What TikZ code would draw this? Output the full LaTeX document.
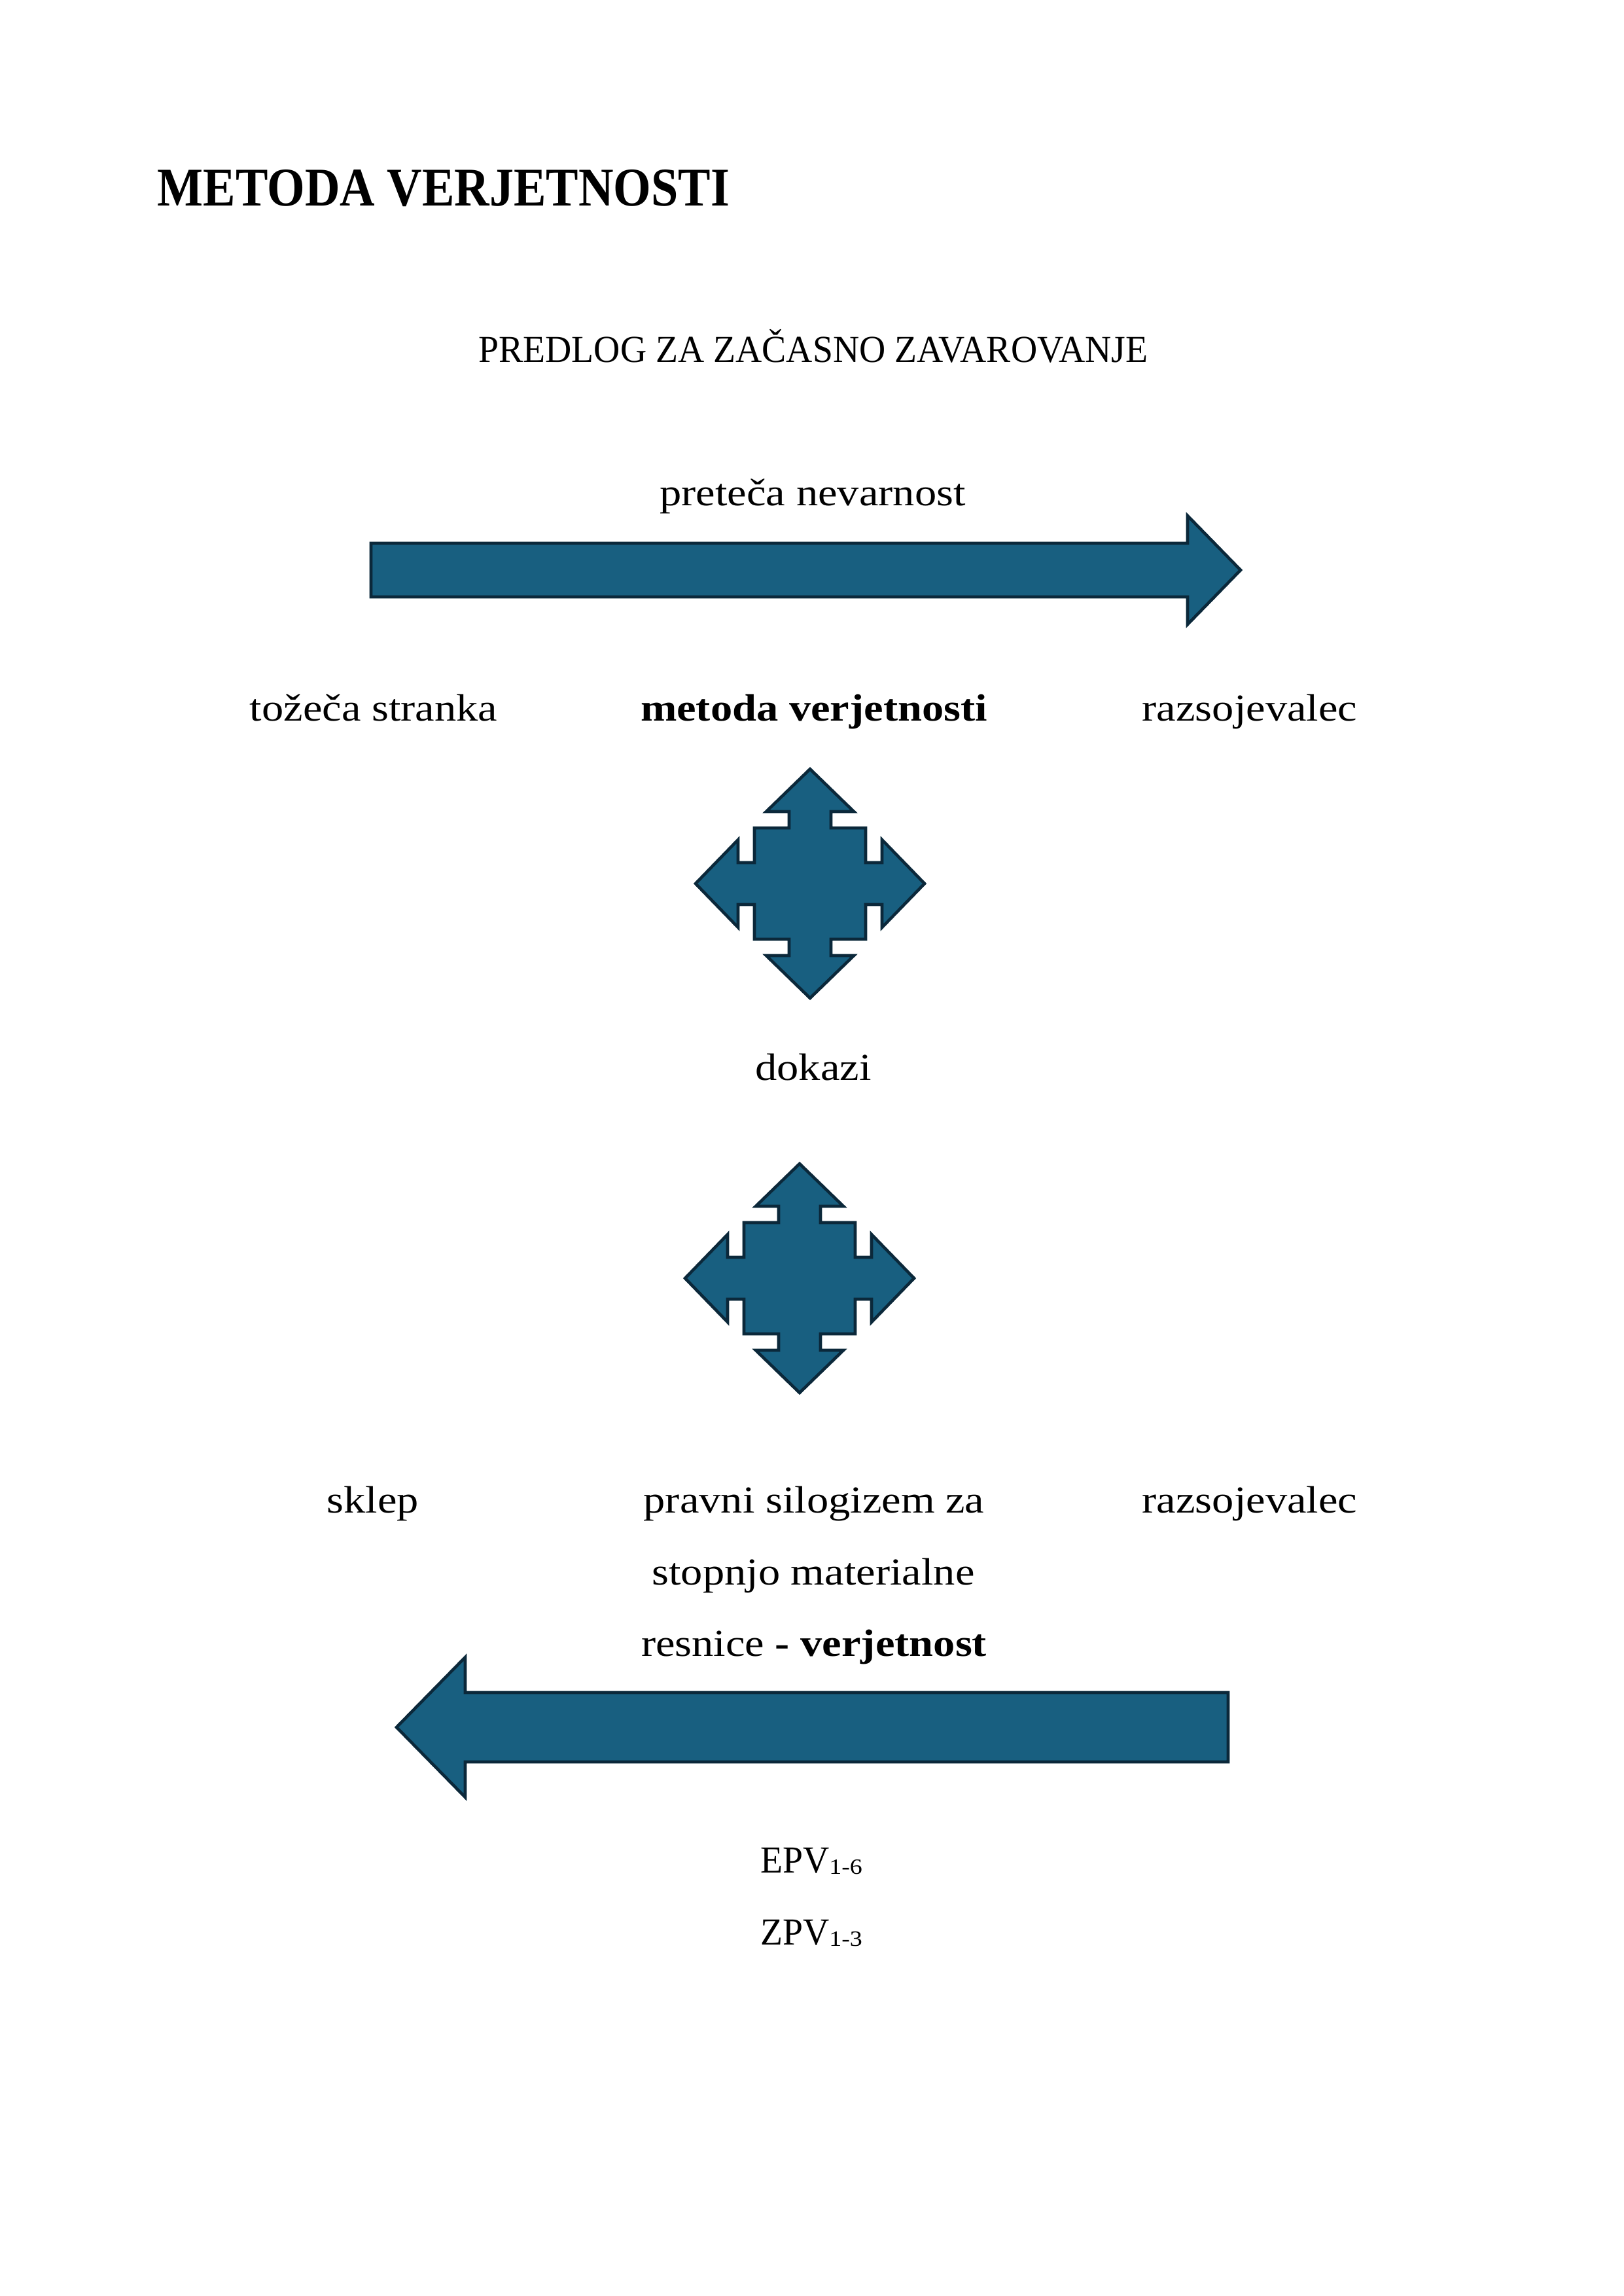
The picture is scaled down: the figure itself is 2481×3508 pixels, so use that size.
\documentclass[tikz,border=0pt]{standalone}
\usepackage{fontspec}
\setmainfont{Liberation Serif}[FakeStretch=1.14]
\newfontfamily\capsfont{Liberation Serif}[FakeStretch=0.955]
\newfontfamily\titlefont{Liberation Serif}[FakeStretch=0.89]
\definecolor{arrowfill}{RGB}{24,95,128}
\definecolor{arrowline}{RGB}{11,40,58}
\newcommand\myquadarrow[3]{%
  \begin{scope}[shift={(#1,#2)}]
    \draw[shapefill] (0,-175) -- (67,-110) -- (32,-110) -- (32,-85) -- (85,-85) -- (85,-32) -- (110,-32) -- (110,-67) -- (175,0) -- (110,67) -- (110,32) -- (85,32) -- (85,85) -- (32,85) -- (32,110) -- (67,110) -- (0,175) -- (-67,110) -- (-32,110) -- (-32,85) -- (-85,85) -- (-85,32) -- (-110,32) -- (-110,67) -- (-175,0) -- (-110,-67) -- (-110,-32) -- (-85,-32) -- (-85,-85) -- (-32,-85) -- (-32,-110) -- (-67,-110) -- cycle;
    \coordinate (#3) at (0,0);
  \end{scope}}
\begin{document}
\begin{tikzpicture}[x=0.24pt,y=-0.24pt,
  txt/.style={inner sep=0pt, anchor=base, font=\fontsize{14}{17}\selectfont},
  shapefill/.style={fill=arrowfill, draw=arrowline, line width=1.1pt, line join=miter}]
\useasboundingbox (0,0) rectangle (2481,3508);
\fill[white] (0,0) rectangle (2481,3508);

% title
\node[txt, anchor=base west, font=\titlefont\bfseries\fontsize{20}{24}\selectfont] (title) at (240,315) {METODA VERJETNOSTI};

\node[txt, font=\capsfont\fontsize{14}{17}\selectfont] (predlog) at (1243,554) {PREDLOG ZA ZAČASNO ZAVAROVANJE};
\node[txt] (nevarnost) at (1242,773) {preteča nevarnost};

% right arrow
\draw[shapefill] (567,830) -- (1815,830) -- (1815,788) -- (1896,871) -- (1815,954) -- (1815,912) -- (567,912) -- cycle;

\node[txt] (tozeca) at (571,1101) {tožeča stranka};
\node[txt, font=\bfseries\fontsize{14}{17}\selectfont] (metoda) at (1244,1101) {metoda verjetnosti};
\node[txt] (razs1) at (1910,1101) {razsojevalec};

\myquadarrow{1238}{1350}{quadA}

\node[txt] (dokazi) at (1243,1650) {dokazi};

\myquadarrow{1222}{1953}{quadB}

\node[txt] (sklep) at (570,2311) {sklep};
\node[txt] (pravni) at (1244,2311) {pravni silogizem za};
\node[txt] (razs2) at (1910,2311) {razsojevalec};
\node[txt] (stopnjo) at (1243,2421) {stopnjo materialne};
\node[txt] (resnice) at (1244,2530) {resnice \textbf{- verjetnost}};

% left arrow
\draw[shapefill] (606,2639) -- (711,2532) -- (711,2586) -- (1877,2586) -- (1877,2692) -- (711,2692) -- (711,2746) -- cycle;

\node[txt] (epv) at (1240,2861) {{\capsfont EPV}\raisebox{-0.7pt}{\fontsize{8}{9}\selectfont 1-6}};
\node[txt] (zpv) at (1240,2971) {{\capsfont ZPV}\raisebox{-0.7pt}{\fontsize{8}{9}\selectfont 1-3}};
\end{tikzpicture}
\end{document}
